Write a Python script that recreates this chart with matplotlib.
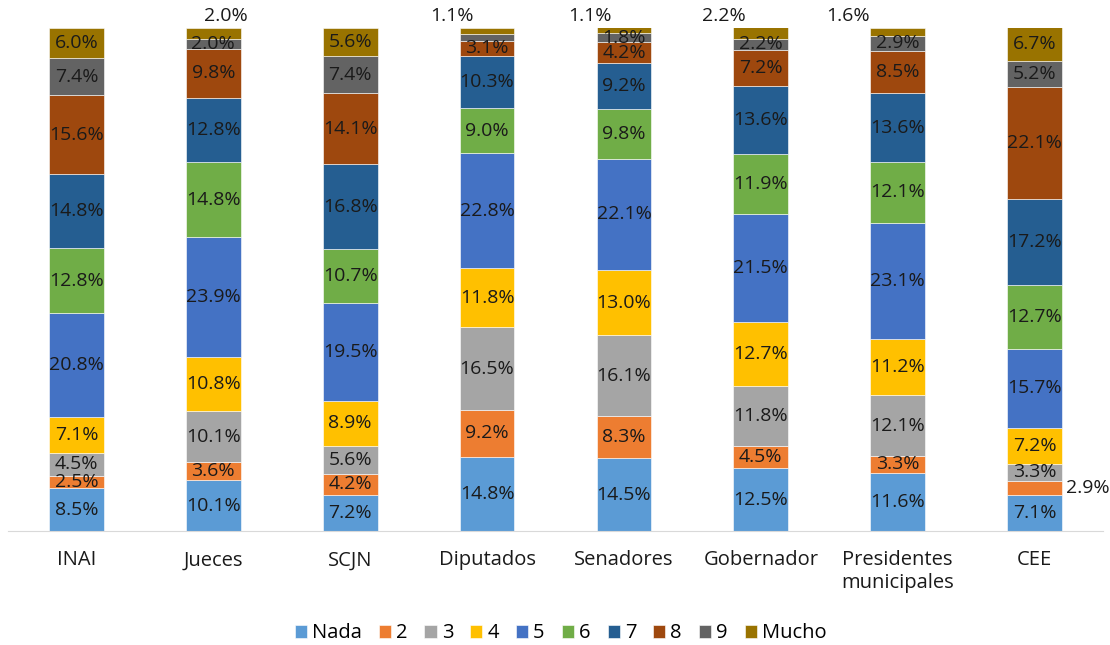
import numpy as np
import matplotlib.pyplot as plt

plt.rcParams['font.family'] = ['Open Sans', 'DejaVu Sans']

categorias = ['INAI', 'Jueces', 'SCJN', 'Diputados', 'Senadores', 'Gobernador',
              'Presidentes\nmunicipales', 'CEE']
series = ['Nada', '2', '3', '4', '5', '6', '7', '8', '9', 'Mucho']
colores = ['#5B9BD5', '#ED7D31', '#A5A5A5', '#FFC000', '#4472C4', '#70AD47',
           '#255E91', '#9E480E', '#636363', '#997300']

# rows = series, columns = categorias
nada = [8.5, 10.1, 7.2, 14.8, 14.5, 12.5, 11.6, 7.1]
s2 = [2.5, 3.6, 4.2, 9.2, 8.3, 4.5, 3.3, 2.9]
s3 = [4.5, 10.1, 5.6, 16.5, 16.1, 11.8, 12.1, 3.3]
s4 = [7.1, 10.8, 8.9, 11.8, 13.0, 12.7, 11.2, 7.2]
s5 = [20.8, 23.9, 19.5, 22.8, 22.1, 21.5, 23.1, 15.7]
s6 = [12.8, 14.8, 10.7, 9.0, 9.8, 11.9, 12.1, 12.7]
s7 = [14.8, 12.8, 16.8, 10.3, 9.2, 13.6, 13.6, 17.2]
s8 = [15.6, 9.8, 14.1, 3.1, 4.2, 7.2, 8.5, 22.1]
s9 = [7.4, 2.0, 7.4, 1.4, 1.8, 2.2, 2.9, 5.2]
mucho = [6.0, 2.0, 5.6, 1.1, 1.1, 2.2, 1.6, 6.7]
valores = np.array([nada, s2, s3, s4, s5, s6, s7, s8, s9, mucho])

# etiquetas fuera de la barra: (serie, categoria) -> desplazamiento en x
fuera = {(9, 1): 0.09, (9, 3): -0.26, (9, 4): -0.25, (9, 5): -0.27, (9, 6): -0.36}
sin_etiqueta = [(8, 3)]

fig = plt.figure(figsize=(11.1, 6.45), dpi=100)
ax = fig.add_axes([0.0072, 0.1767, 0.9865, 0.7799])

fs = 14
x = np.arange(len(categorias))
base = np.zeros(len(categorias))
for i, nombre in enumerate(series):
    ax.bar(x, valores[i], 0.40, bottom=base, color=colores[i], label=nombre,
           edgecolor='white', linewidth=0.4)
    for j in range(len(categorias)):
        v = valores[i][j]
        txt = f'{v:.1f}%'
        if (i, j) in sin_etiqueta:
            pass
        elif (i, j) in fuera:
            ax.text(x[j] + fuera[(i, j)], 102.4, txt, ha='center', va='center',
                    fontsize=fs, color='#1a1a1a')
        elif (i, j) == (1, 7):
            ax.text(x[j] + 0.39, base[j] + v / 2, txt, ha='center', va='center',
                    fontsize=fs, color='#1a1a1a')
        else:
            ax.text(x[j], base[j] + v / 2, txt, ha='center', va='center',
                    fontsize=fs, color='#1a1a1a')
    base += valores[i]

ax.set_xlim(-0.5, 7.5)
ax.set_ylim(0, 100)
ax.set_yticks([])
ax.set_xticks(x)
ax.set_xticklabels(categorias, fontsize=14.5, color='#1a1a1a', linespacing=1.2)
ax.tick_params(axis='x', length=0, pad=14)
for s in ['top', 'left', 'right']:
    ax.spines[s].set_visible(False)
ax.spines['bottom'].set_color('#D9D9D9')

fig.legend(loc='center', bbox_to_anchor=(0.505, 0.018), ncol=10, frameon=False,
           fontsize=14.5, handlelength=0.6, handleheight=0.6, handletextpad=0.25,
           columnspacing=0.85)

plt.savefig('out.png', dpi=100)
